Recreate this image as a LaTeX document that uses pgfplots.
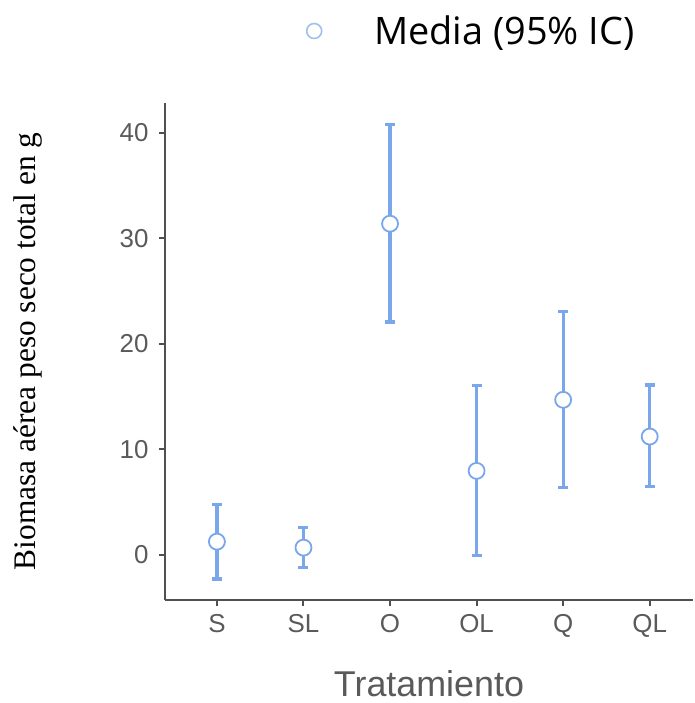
\documentclass[border=0pt]{standalone}
\usepackage{fontspec}
\usepackage{pgfplots}
\usepackage{pgfplotstable}
\pgfplotsset{compat=1.18}
\setmainfont{Liberation Sans}
\newfontfamily\seriffont{Liberation Serif}
\newfontfamily\legfont{Open Sans}
\definecolor{barblue}{RGB}{122,167,235}
\definecolor{legblue}{RGB}{160,192,240}
\definecolor{axisgray}{RGB}{80,80,80}
\definecolor{tickgray}{RGB}{90,90,90}

\pgfplotstableread{
x mean ep em
0 1.26 3.54 3.54
1 0.69 1.90 1.86
2 31.37 9.39 9.31
3 7.96 8.06 8.03
4 14.69 8.37 8.31
5 11.21 4.87 4.76
}\datatab

\begin{document}
\begin{tikzpicture}
\path[use as bounding box] (-165bp,-103bp) rectangle (530bp,600bp);
\begin{axis}[
  scale only axis,
  width=528bp, height=497bp,
  xmin=-0.6, xmax=5.5,
  ymin=-4.27, ymax=42.8,
  axis lines*=left,
  axis line style={draw=axisgray, line width=2bp},
  xtick={0,1,2,3,4,5},
  xticklabels={S,SL,O,OL,Q,QL},
  ytick={0,10,20,30,40},
  tick align=outside,
  major tick length=6bp,
  tick style={draw=axisgray, line width=2bp},
  /pgf/number format/assume math mode=true,
  ticklabel style={font=\fontsize{26}{26}\selectfont, text=tickgray},
  yticklabel style={xshift=-7bp},
  xticklabel style={yshift=-5bp},
  xlabel={Tratamiento},
  xlabel style={font=\fontsize{36}{36}\selectfont, text=tickgray, at={(axis description cs:0.5,0)}, anchor=center, yshift=-84bp},
  ylabel={Biomasa aérea peso seco total en g},
  ylabel style={font=\seriffont\fontsize{31.5}{31.5}\selectfont, text=black, at={(axis description cs:-0.2595,0.5)}, anchor=center, rotate=0},
  legend style={draw=none, fill=none, at={(axis description cs:0,1)}, anchor=west, xshift=136bp, yshift=72bp, nodes={inner sep=0pt}, font=\legfont\fontsize{38}{38}\selectfont, text=black},
  legend image code/.code={
    \path[draw=none] (-10bp,0) -- (60bp,0);
    \draw[legblue, fill=white, line width=1.6bp] (0bp,0bp) circle (7.5bp);
  },
]
\addplot[forget plot, draw=none, mark=none,
  error bars/.cd, y dir=both, y explicit,
  error bar style={barblue, line width=3.3bp},
  error mark options={barblue, line width=3.3bp, mark size=5bp, rotate=90}]
  table[x=x, y=mean, y error plus=ep, y error minus=em] {\datatab};
\addplot[only marks, mark=*, mark size=8bp,
  mark options={draw=barblue, fill=white, line width=1.8bp}]
  table[x=x, y=mean] {\datatab};
\addlegendentry{Media (95\% IC)}
\end{axis}
\end{tikzpicture}
\end{document}
